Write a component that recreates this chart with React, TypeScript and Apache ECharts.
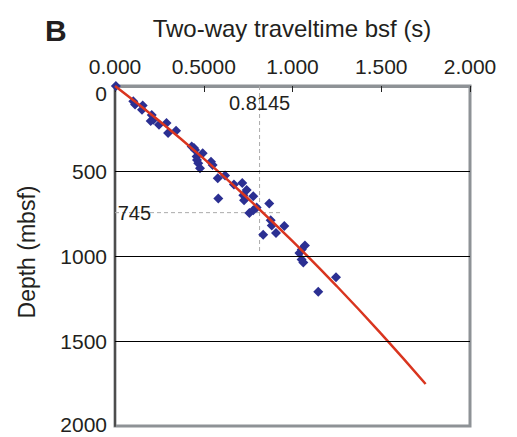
import React, { useEffect, useRef } from "react";
import * as echarts from "echarts";

const xTickLabels = ["0.000", "0.5000", "1.000", "1.500", "2.000"];
const yTickLabels = ["0", "500", "1000", "1500", "2000"];

// scatter: two-way traveltime (s), depth (mbsf)
const twt = [
  0.005, 0.103, 0.113, 0.156, 0.152, 0.207, 0.216, 0.201, 0.248, 0.29, 0.299, 0.344,
  0.432, 0.445, 0.451, 0.46, 0.462, 0.469, 0.479, 0.494, 0.541, 0.55, 0.579, 0.582,
  0.62, 0.67, 0.717, 0.742, 0.723, 0.727, 0.779, 0.757, 0.779, 0.798, 0.869, 0.877,
  0.883, 0.954, 0.835, 0.907, 1.07, 1.052, 1.039, 1.061, 1.051, 1.245, 1.145,
];
const depth = [
  0, 90, 109, 115, 139, 170, 198, 206, 228, 218, 277, 263,
  356, 364, 376, 415, 435, 454, 484, 395, 445, 464, 543, 662,
  527, 579, 571, 612, 642, 672, 648, 747, 731, 715, 691, 790,
  820, 824, 875, 865, 938, 962, 983, 1038, 1021, 1125, 1210,
];

// fitted time-depth curve
const fitTwt = [0, 0.25, 0.5, 0.75, 1.0, 1.25, 1.5, 1.75];
const fitDepth = [0, 206, 427, 663, 913, 1178, 1458, 1753];

// reference picks
const pickTwt = 0.8145;
const pickDepth = 745;
const gridDepths = [500, 1000, 1500];

const FONT = "'Liberation Sans', Arial, Helvetica, sans-serif";
const TXT = "#231f20";

export default function App() {
  const ref = useRef<HTMLDivElement>(null);
  useEffect(() => {
    const chart = echarts.init(ref.current!, null, { renderer: "svg" });
    chart.setOption({
      animation: false,
      backgroundColor: "#fff",
      grid: {
        left: 115,
        right: 47,
        top: 86,
        bottom: 11,
        show: true,
        borderColor: "#8e9296",
        borderWidth: 3,
      },
      graphic: [
        {
          type: "text",
          left: 45,
          top: 15,
          style: { text: "B", font: `bold 30px ${FONT}`, fill: TXT },
        },
        {
          type: "text",
          x: 292,
          y: 28,
          style: {
            text: "Two-way traveltime bsf (s)",
            font: `24px ${FONT}`,
            fill: TXT,
            textAlign: "center",
            textVerticalAlign: "middle",
          },
        },
        {
          type: "text",
          x: 27,
          y: 252,
          rotation: Math.PI / 2,
          style: {
            text: "Depth (mbsf)",
            font: `23px ${FONT}`,
            fill: TXT,
            textAlign: "center",
            textVerticalAlign: "middle",
          },
        },
      ],
      xAxis: {
        type: "value",
        position: "top",
        min: 0,
        max: 2,
        interval: 0.5,
        axisLine: { show: true, lineStyle: { color: "#8e9296", width: 3 } },
        axisTick: { show: true, inside: true, length: 6, lineStyle: { color: "#222", width: 1 } },
        splitLine: { show: false },
        axisLabel: {
          margin: 9,
          fontSize: 21,
          fontFamily: FONT,
          color: TXT,
          formatter: (_v: number, i: number) => xTickLabels[i],
        },
      },
      yAxis: {
        type: "value",
        inverse: true,
        min: 0,
        max: 2000,
        interval: 500,
        axisLine: { show: true, lineStyle: { color: "#4d4d4d", width: 2 } },
        axisTick: { show: false },
        splitLine: { show: false },
        axisLabel: {
          margin: 8,
          fontSize: 21,
          fontFamily: FONT,
          color: TXT,
          formatter: (_v: number, i: number) =>
            i === 0 ? `{first|${yTickLabels[i]}}` : i === yTickLabels.length - 1 ? `{last|${yTickLabels[i]}}` : yTickLabels[i],
          rich: {
            first: { fontSize: 21, fontFamily: FONT, color: TXT, padding: [14, 0, 0, 0] },
            last: { fontSize: 21, fontFamily: FONT, color: TXT, padding: [0, 0, 4, 0] },
          },
        },
      },
      series: [
        {
          type: "line",
          data: [],
          silent: true,
          markLine: {
            silent: true,
            symbol: "none",
            label: { show: false },
            lineStyle: { color: "#000", width: 1, type: "solid" },
            data: gridDepths.map((d) => ({ yAxis: d })),
          },
        },
        {
          type: "line",
          data: [
            [pickTwt, 0],
            [pickTwt, 980],
          ],
          symbol: "none",
          lineStyle: { color: "#aaaaaa", width: 1, type: [4, 3] },
          silent: true,
        },
        {
          type: "line",
          data: [
            [0, pickDepth],
            [0.94, pickDepth],
          ],
          symbol: "none",
          lineStyle: { color: "#aaaaaa", width: 1, type: [4, 3] },
          silent: true,
          markPoint: {
            symbol: "circle",
            symbolSize: 0,
            silent: true,
            data: [
              {
                coord: [pickTwt, 98],
                label: {
                  show: true,
                  formatter: String(pickTwt),
                  position: "inside",
                  fontSize: 20,
                  fontFamily: FONT,
                  color: TXT,
                },
              },
              {
                coord: [0.015, pickDepth],
                label: {
                  show: true,
                  formatter: String(pickDepth),
                  position: "right",
                  distance: 0,
                  fontSize: 20,
                  fontFamily: FONT,
                  color: TXT,
                },
              },
            ],
          },
        },
        {
          type: "scatter",
          data: twt.map((t, i) => [t, depth[i]]),
          symbol: "diamond",
          symbolSize: 10,
          clip: false,
          itemStyle: { color: "#2b2f92", opacity: 1 },
          z: 3,
        },
        {
          type: "line",
          data: fitTwt.map((t, i) => [t, fitDepth[i]]),
          symbol: "none",
          smooth: true,
          lineStyle: { color: "#d9351f", width: 2.5 },
          z: 4,
        },
      ],
    });
    return () => chart.dispose();
  }, []);
  return <div ref={ref} style={{ width: 517, height: 437, position: "absolute", left: 0, top: 0 }} />;
}
